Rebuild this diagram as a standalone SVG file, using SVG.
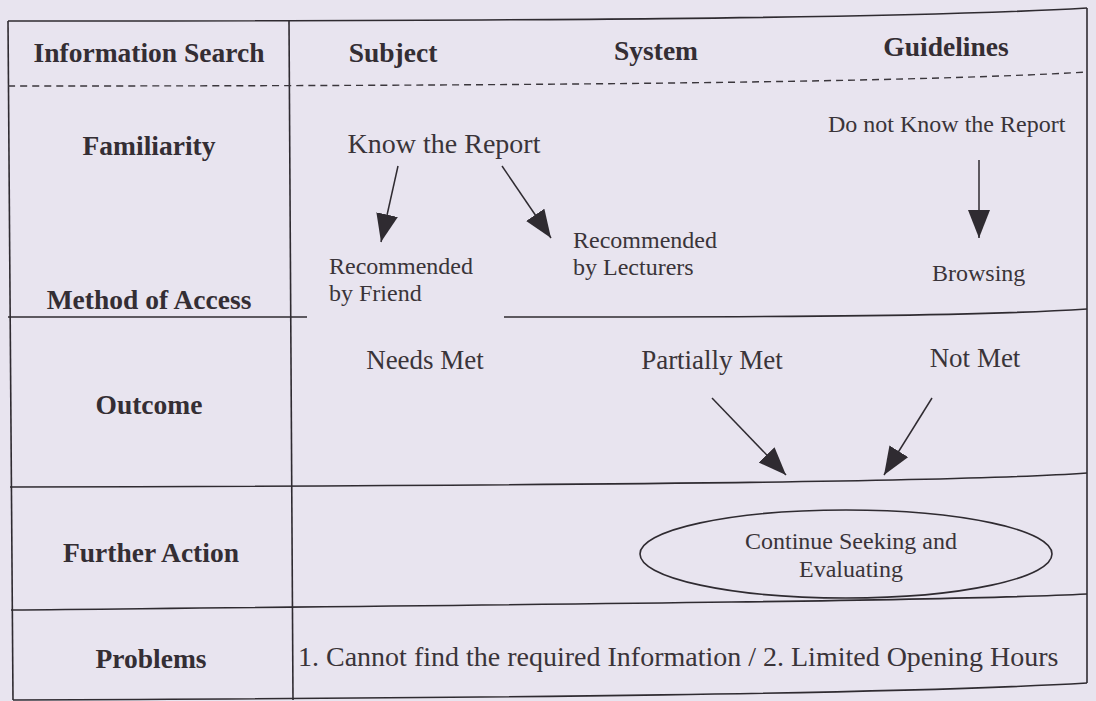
<svg xmlns="http://www.w3.org/2000/svg" width="1096" height="701" viewBox="0 0 1096 701">
  <style>
    .frame { fill: none; stroke: #2f2b31; stroke-width: 1.6; }
    .dash { fill: none; stroke: #3a363c; stroke-width: 1.4; stroke-dasharray: 7 5; }
    .head { font-family: "Liberation Serif", "Times New Roman", serif; font-weight: bold; font-size: 27.5px; fill: #342e34; text-anchor: middle; }
    .lbl { font-family: "Liberation Serif", "Times New Roman", serif; font-size: 27px; fill: #3a3439; }
    .mid { text-anchor: middle; }
    .small { font-size: 24px; }
    .arrow { fill: none; stroke: #2f2b31; stroke-width: 1.5; marker-end: url(#head); }
  </style>
  <defs>
    <marker id="head" markerUnits="userSpaceOnUse" markerWidth="30" markerHeight="24" refX="28" refY="11" orient="auto">
      <path d="M0,0 L28,11 L0,22 Z" fill="#2f2b31"/>
    </marker>
  </defs>

  <!-- page -->
  <rect width="1096" height="701" fill="#e8e4ef"/>

  <!-- table grid -->
  <g id="grid">
    <path class="frame" d="M8,21 L13,700"/>
    <path class="frame" d="M8,21 C500,21 900,19 1087,8"/>
    <path class="frame" d="M1087,8 L1087,683"/>
    <path class="frame" d="M13,700 C500,698 900,694 1087,683"/>
    <path class="frame" d="M289,21 L293,700"/>
    <path class="dash" d="M8,86 C500,86 900,83 1087,72"/>
    <path class="frame" d="M8,317 L307,317"/>
    <path class="frame" d="M504,317 C800,317 980,316 1087,309"/>
    <path class="frame" d="M10,487 C500,486 950,483 1087,473"/>
    <path class="frame" d="M11,610 C500,605 950,601 1087,594"/>
  </g>

  <!-- row and column headings -->
  <g id="headings">
    <text class="head" x="149" y="62">Information Search</text>
    <text class="head" x="393" y="62">Subject</text>
    <text class="head" x="656" y="60">System</text>
    <text class="head" x="946" y="56">Guidelines</text>
    <text class="head" x="149" y="155">Familiarity</text>
    <text class="head" x="149" y="309">Method of Access</text>
    <text class="head" x="149" y="414">Outcome</text>
    <text class="head" x="151" y="562">Further Action</text>
    <text class="head" x="151" y="668">Problems</text>
  </g>

  <g id="know">
    <text class="lbl mid" x="444" y="153" style="font-size:28px">Know the Report</text>
  </g>
  <g id="dont-know">
    <text class="lbl small" x="828" y="132">Do not Know the Report</text>
  </g>
  <g id="friend">
    <text class="lbl small" x="329" y="274">Recommended</text>
    <text class="lbl small" x="329" y="301">by Friend</text>
  </g>
  <g id="lecturers">
    <text class="lbl small" x="573" y="248">Recommended</text>
    <text class="lbl small" x="573" y="275">by Lecturers</text>
  </g>
  <g id="browsing">
    <text class="lbl small" x="932" y="281">Browsing</text>
  </g>
  <g id="needs-met">
    <text class="lbl mid" x="425" y="369">Needs Met</text>
  </g>
  <g id="partially-met">
    <text class="lbl mid" x="712" y="369">Partially Met</text>
  </g>
  <g id="not-met">
    <text class="lbl mid" x="975" y="367">Not Met</text>
  </g>
  <g id="continue">
    <ellipse class="frame" cx="846" cy="554" rx="206" ry="44"/>
    <text class="lbl small mid" x="851" y="549">Continue Seeking and</text>
    <text class="lbl small mid" x="851" y="577">Evaluating</text>
  </g>
  <g id="problems">
    <text class="lbl" x="298" y="666" style="font-size:28px">1. Cannot find the required Information / 2. Limited Opening Hours</text>
  </g>

  <!-- connectors -->
  <g id="connectors">
    <path class="arrow" d="M398,166 L381,242"/>
    <path class="arrow" d="M502,166 L551,238"/>
    <path class="arrow" d="M979,160 L979,238"/>
    <path class="arrow" d="M712,398 L786,475"/>
    <path class="arrow" d="M932,398 L884,475"/>
  </g>
</svg>
